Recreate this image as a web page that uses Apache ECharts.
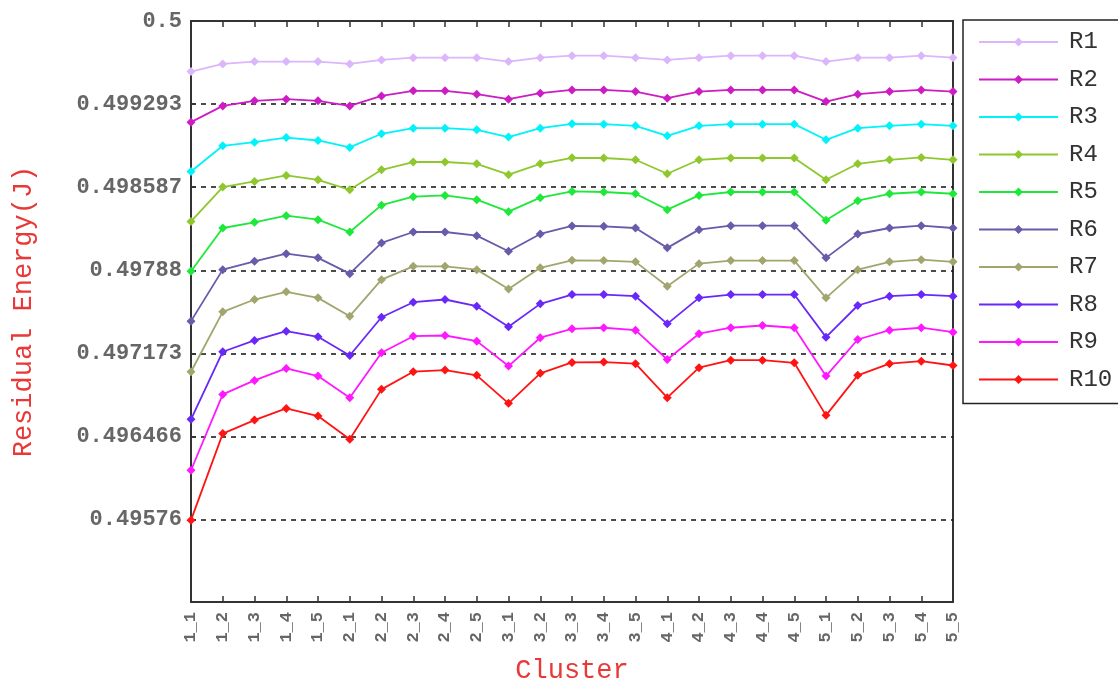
<!DOCTYPE html>
<html>
<head>
<meta charset="utf-8">
<script src="https://cdn.jsdelivr.net/npm/echarts@6/dist/echarts.min.js"></script>
<style>
html,body{margin:0;padding:0;background:#fff;}
#c{width:1118px;height:683px;}
</style>
</head>
<body>
<div id="c"></div>
<script>
const categories = ['1_1','1_2','1_3','1_4','1_5','2_1','2_2','2_3','2_4','2_5','3_1','3_2','3_3','3_4','3_5','4_1','4_2','4_3','4_4','4_5','5_1','5_2','5_3','5_4','5_5'];
const yTickLabels = ['0.5','0.499293','0.498587','0.49788','0.497173','0.496466','0.49576'];
const seriesNames = ['R1','R2','R3','R4','R5','R6','R7','R8','R9','R10'];
const R1 = [0.499570,0.499635,0.499655,0.499655,0.499655,0.499635,0.499669,0.499688,0.499688,0.499688,0.499655,0.499688,0.499705,0.499705,0.499688,0.499669,0.499688,0.499705,0.499705,0.499705,0.499655,0.499688,0.499688,0.499705,0.499688];
const R2 = [0.499140,0.499278,0.499321,0.499335,0.499321,0.499278,0.499363,0.499406,0.499406,0.499378,0.499335,0.499386,0.499414,0.499414,0.499400,0.499344,0.499400,0.499414,0.499414,0.499414,0.499315,0.499378,0.499400,0.499414,0.499400];
const R3 = [0.498721,0.498939,0.498970,0.499009,0.498984,0.498925,0.499041,0.499089,0.499089,0.499075,0.499013,0.499089,0.499126,0.499123,0.499109,0.499024,0.499109,0.499123,0.499123,0.499123,0.498990,0.499089,0.499109,0.499123,0.499109];
const R4 = [0.498296,0.498588,0.498636,0.498687,0.498650,0.498565,0.498735,0.498801,0.498801,0.498786,0.498693,0.498786,0.498837,0.498835,0.498820,0.498701,0.498820,0.498835,0.498835,0.498835,0.498650,0.498786,0.498820,0.498840,0.498820];
const R5 = [0.497872,0.498240,0.498288,0.498345,0.498311,0.498206,0.498434,0.498506,0.498517,0.498481,0.498379,0.498498,0.498551,0.498546,0.498531,0.498396,0.498517,0.498546,0.498546,0.498546,0.498305,0.498472,0.498531,0.498546,0.498531];
const R6 = [0.497448,0.497886,0.497957,0.498022,0.497986,0.497852,0.498113,0.498206,0.498206,0.498175,0.498042,0.498189,0.498257,0.498254,0.498240,0.498071,0.498226,0.498260,0.498260,0.498260,0.497986,0.498189,0.498240,0.498260,0.498240];
const R7 = [0.497018,0.497527,0.497632,0.497697,0.497646,0.497490,0.497801,0.497914,0.497914,0.497886,0.497722,0.497901,0.497965,0.497963,0.497952,0.497745,0.497937,0.497963,0.497963,0.497963,0.497646,0.497886,0.497952,0.497971,0.497952];
const R8 = [0.496613,0.497188,0.497284,0.497363,0.497315,0.497156,0.497481,0.497609,0.497632,0.497575,0.497400,0.497595,0.497674,0.497674,0.497660,0.497425,0.497646,0.497674,0.497674,0.497674,0.497312,0.497581,0.497660,0.497674,0.497660];
const R9 = [0.496180,0.496825,0.496944,0.497046,0.496981,0.496797,0.497179,0.497320,0.497326,0.497278,0.497066,0.497307,0.497383,0.497392,0.497371,0.497122,0.497341,0.497392,0.497411,0.497392,0.496981,0.497292,0.497371,0.497392,0.497354];
const R10 = [0.495756,0.496492,0.496607,0.496706,0.496641,0.496443,0.496868,0.497018,0.497032,0.496987,0.496749,0.497004,0.497097,0.497100,0.497086,0.496797,0.497052,0.497116,0.497116,0.497094,0.496647,0.496987,0.497086,0.497108,0.497071];

const seriesData = [R1,R2,R3,R4,R5,R6,R7,R8,R9,R10];
const colors = ['#dcb6fa','#cc1cc4','#00f2fa','#8ec82e','#1ee83a','#6a5aaa','#a2a66e','#6a28f8','#ff18ff','#ff1414'];
const yTicks = yTickLabels.map(Number);
const FONT = 'Liberation Mono';

const chart = echarts.init(document.getElementById('c'), null, {renderer:'canvas'});
const option = {
  animation: false,
  backgroundColor: '#fff',
  color: colors,
  grid: {left:191, right:165, top:21, bottom:81, show:true, borderColor:'#333', borderWidth:2, backgroundColor:'transparent', containLabel:false, outerBoundsMode:'none'},
  legend: {
    orient:'vertical', left:963, top:20,
    data: seriesNames,
    borderColor:'#222', borderWidth:1.5,
    padding:[10,12,12,15],
    itemWidth:79, itemHeight:11, itemGap:13.5,
    textStyle:{fontFamily:FONT, fontSize:24, color:'#333', padding:[0,0,0,6]}
  },
  xAxis: [{
    type:'category', data:categories, boundaryGap:false,
    name:'Cluster', nameLocation:'middle', nameGap:55,
    nameTextStyle:{fontFamily:FONT, fontSize:27, color:'#e83838'},
    axisLine:{show:true, lineStyle:{color:'#333', width:2}},
    axisTick:{show:true, inside:true, length:6, alignWithLabel:true, lineStyle:{color:'#333', width:1.5}},
    axisLabel:{rotate:90, interval:0, fontFamily:FONT, fontSize:17, fontWeight:'bold', color:'#666', margin:10},
    splitLine:{show:false}
  },{
    type:'category', data:categories, boundaryGap:false, position:'top',
    axisLine:{show:true, lineStyle:{color:'#333', width:2}},
    axisTick:{show:true, inside:true, length:6, lineStyle:{color:'#333', width:1.5}},
    axisLabel:{show:false}, splitLine:{show:false}
  }],
  yAxis: {
    type:'value', min:0.49506, max:0.5,
    name:'Residual Energy(J)', nameLocation:'middle', nameGap:154,
    nameTextStyle:{fontFamily:FONT, fontSize:27, color:'#e83838'},
    axisLine:{show:true, lineStyle:{color:'#333', width:2}},
    axisTick:{show:true, inside:true, length:5, customValues:yTicks, lineStyle:{color:'#333', width:1.5}},
    axisLabel:{customValues:yTicks, fontFamily:FONT, fontSize:22, fontWeight:'bold', color:'#666', margin:9,
      formatter:function(v){ const i = yTicks.findIndex(t=>Math.abs(t-v)<1e-8); return i>=0 ? yTickLabels[i] : ''; }},
    splitLine:{show:true, lineStyle:{color:'#111', width:1.5, type:[5,5]}}
  },
  series: seriesNames.map((n,i)=>({
    name:n, type:'line', data:seriesData[i], xAxisIndex:0,
    symbol:'diamond', symbolSize:9, showAllSymbol:true,
    lineStyle:{width:1.8, color:colors[i]},
    itemStyle:{color:colors[i]}
  }))
};
chart.setOption(option);
</script>
</body>
</html>
